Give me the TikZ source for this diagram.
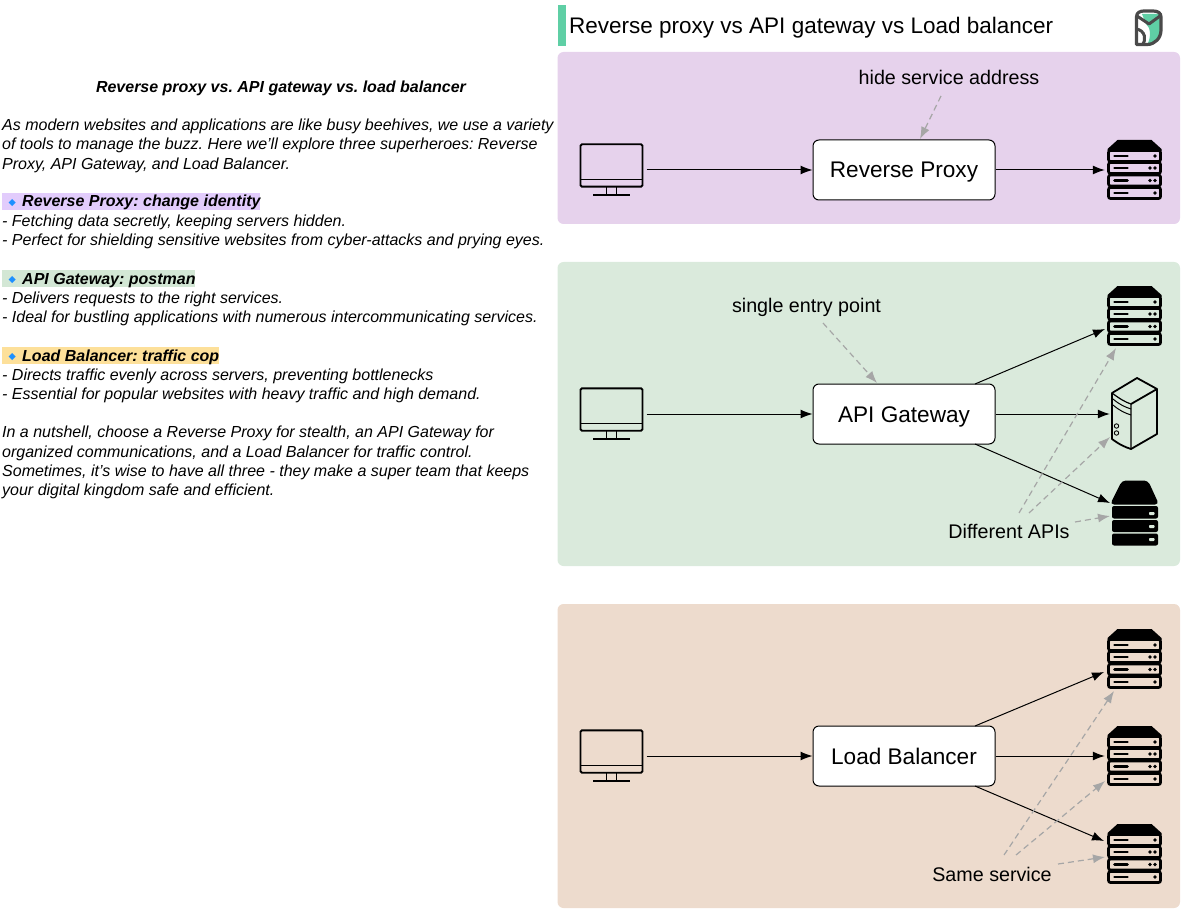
\documentclass[tikz,border=0pt]{standalone}
\usepackage{fontspec}
\setmainfont{Liberation Sans}
\newfontfamily\symfont{DejaVu Sans}
\usetikzlibrary{arrows.meta}
\frenchspacing
\definecolor{pPurple}{HTML}{E6D2EC}
\definecolor{pGreen}{HTML}{DAEADC}
\definecolor{pTan}{HTML}{EDDBCD}
\definecolor{hPurple}{HTML}{E2CCFC}
\definecolor{hGreen}{HTML}{D3E7D5}
\definecolor{hYellow}{HTML}{FDE09A}
\definecolor{accent}{HTML}{5FCFA5}
\definecolor{dashgray}{HTML}{A6A6A6}
\definecolor{logogray}{HTML}{4A4A4A}
\definecolor{diam}{HTML}{1E90FF}
\newcommand{\bdiam}{\makebox[20pt][c]{\raisebox{1.2pt}{\symfont\fontsize{9.5}{9.5}\selectfont\textcolor{diam}{◆}}}}
\tikzset{
  x=1pt,y=-1pt,
  panel/.style={rounded corners=6pt,draw=none},
  procbox/.style={draw=black,fill=white,line width=1pt,rounded corners=6pt,minimum width=182pt,minimum height=60pt,inner sep=0pt,text height=16pt,text depth=0pt,font=\fontsize{22.6}{26}\selectfont},
  note/.style={inner sep=0pt,anchor=base,font=\fontsize{19.7}{24}\selectfont},
  body/.style={inner sep=0pt,anchor=base west,font=\fontsize{16}{19}\selectfont\itshape},
  head/.style={inner sep=0pt,anchor=base west,font=\fontsize{16}{19}\selectfont\itshape\bfseries},
  iconbox/.style={minimum width=#1,minimum height=60pt,inner sep=0pt},
  flow/.style={-{Latex[length=12pt,width=9pt]},line width=1pt,black},
  hint/.style={-{Latex[length=12pt,width=9pt]},line width=1.2pt,dashgray,dash pattern=on 6pt off 4pt},
  monitor/.pic={
    \draw[line width=1.9pt,rounded corners=1.5pt] (-31,-25.7) rectangle (31,16.7);
    \draw[line width=1.7pt] (-31,9.5) -- (31,9.5);
    \draw[line width=1.6pt] (-5,17) -- (-5,25) (5,17) -- (5,25);
    \draw[line width=1.9pt] (-18.5,25) -- (18.5,25);
  },
  rackrow/.pic={
    \draw[line width=2.7pt,rounded corners=2pt] (-26,-5.5) rectangle (26,5.5);
    \draw[line width=2.6pt,line cap=round] (-20,0) -- (-7,0);
  },
  rack/.pic={
    \fill (-27,-19) -- (-27,-21) -- (-17,-30) -- (17,-30) -- (27,-21) -- (27,-19) -- cycle;
    \pic at (0,-14) {rackrow};
    \pic at (0,-2) {rackrow};
    \pic at (0,10.5) {rackrow};
    \pic at (0,23) {rackrow};
    \fill (20.5,-14) circle (1.8pt) (20.5,-2) circle (1.8pt) (15.5,-2) circle (1.8pt)
          (20.5,10.5) circle (1.8pt) (15.5,10.5) circle (1.8pt) (20.5,23) circle (1.8pt);
  },
  tower/.pic={
    \draw[line width=1.8pt,line join=round] (2,-36) -- (-23,-21) -- (-23,25) .. controls (-15,31) and (-10,33) .. (-4,35) -- (22,20) -- (22,-25) -- cycle;
    \draw[line width=1.2pt] (-23,-21) .. controls (-15,-15) and (-10,-12) .. (-4,-10) -- (-4,35);
    \draw[line width=1.8pt] (-4,-10) -- (22,-25);
    \draw[line width=1pt] (-22,-15) .. controls (-15,-9) and (-10,-7) .. (-4,-5)
                          (-22,-9) .. controls (-15,-3) and (-10,-1) .. (-4,1);
    \draw[line width=0.9pt] (-18.5,12) circle (2.2pt) (-18.5,19) circle (2.2pt);
  },
  darkrack/.pic={
    \fill[rounded corners=4pt] (-25,-8.5) -- (-13,-32.5) -- (13,-32.5) -- (24,-8.5) -- cycle;
    \fill[rounded corners=2pt] (-23,-7) rectangle (23,5.5);
    \fill[rounded corners=2pt] (-23,7) rectangle (23,19);
    \fill[rounded corners=2pt] (-23,20.5) rectangle (23,32.5);
    \fill[pGreen,rounded corners=0.8pt] (14,-1) rectangle (19.5,2) (14,12) rectangle (19.5,15) (14,25) rectangle (19.5,28);
  },
}
\begin{document}
\begin{tikzpicture}
\useasboundingbox (0,0) rectangle (1188,917);
% title strip
\fill[accent] (557.5,5) rectangle (566,46);
\node[inner sep=0pt,anchor=base west,font=\fontsize{22.5}{28}\selectfont] (title) at (569,34) {Reverse proxy vs API gateway vs Load balancer};
% logo
\begin{scope}
\fill[accent] (1142,14) -- (1160,14) -- (1160,30) .. controls (1160,38) and (1153,44) .. (1147,45) .. controls (1152,36) and (1150,27) .. (1146,24) -- cycle;
\draw[logogray,line width=3.2pt,line join=round] (1136.5,17) .. controls (1136.5,12.5) and (1140,11) .. (1144,11) -- (1153,11) .. controls (1158,11) and (1161,13) .. (1161,17) -- (1161,30) .. controls (1161,38) and (1155,44.5) .. (1147,44.5) -- (1136.5,44.5) -- cycle;
\draw[logogray,line width=3pt,line join=round] (1137,16) -- (1149,24) -- (1160,16);
\draw[logogray,line width=3pt] (1136,29) .. controls (1145,30) and (1147,40) .. (1142,45);
\end{scope}
% panels
\fill[panel,pPurple] (557.5,52) rectangle (1180,224);
\fill[panel,pGreen] (557.5,262) rectangle (1180,566);
\fill[panel,pTan] (557.5,604) rectangle (1180,908);
% left text
\node[inner sep=0pt,anchor=base,font=\fontsize{16}{19}\selectfont\itshape\bfseries] (t0) at (281,92.5) {Reverse proxy vs. API gateway vs. load balancer};
\node[body] (t1) at (2,130.5) {As modern websites and applications are like busy beehives, we use a variety};
\node[body] (t2) at (2,149.5) {of tools to manage the buzz. Here we'll explore three superheroes: Reverse};
\node[body] (t3) at (2,169.5) {Proxy, API Gateway, and Load Balancer.};
\fill[hPurple] (2,193) rectangle (260,210);
\node[head] (h1) at (2,207) {\bdiam Reverse Proxy: change identity};
\node[body] (t4) at (2,226.3) {- Fetching data secretly, keeping servers hidden.};
\node[body] (t5) at (2,246) {- Perfect for shielding sensitive websites from cyber-attacks and prying eyes.};
\fill[hGreen] (2,270) rectangle (195,287);
\node[head] (h2) at (2,284) {\bdiam API Gateway: postman};
\node[body] (t6) at (2,303) {- Delivers requests to the right services.};
\node[body] (t7) at (2,322) {- Ideal for bustling applications with numerous intercommunicating services.};
\fill[hYellow] (2,347) rectangle (219,364);
\node[head] (h3) at (2,361) {\bdiam Load Balancer: traffic cop};
\node[body] (t8) at (2,380) {- Directs traffic evenly across servers, preventing bottlenecks};
\node[body] (t9) at (2,399) {- Essential for popular websites with heavy traffic and high demand.};
\node[body] (t10) at (2,437) {In a nutshell, choose a Reverse Proxy for stealth, an API Gateway for};
\node[body] (t11) at (2,457) {organized communications, and a Load Balancer for traffic control.};
\node[body] (t12) at (2,476) {Sometimes, it's wise to have all three - they make a super team that keeps};
\node[body] (t13) at (2,495) {your digital kingdom safe and efficient.};
% panel 1
\node[iconbox=70pt] (m1) at (611.5,170) {};
\pic at (m1.center) {monitor};
\node[procbox] (rp) at (904,170) {Reverse Proxy};
\node[iconbox=59pt] (s1) at (1134.5,170) {};
\pic at (s1.center) {rack};
\draw[flow] (m1) -- (rp);
\draw[flow] (rp) -- (s1);
\node[note] (n1) at (949,84.5) {hide service address};
\coordinate (n1a) at (941,96);
\draw[hint] (n1a) -- (920,139);
% panel 2
\node[iconbox=70pt] (m2) at (611.5,414) {};
\pic at (m2.center) {monitor};
\node[procbox] (gw) at (904,414) {API Gateway};
\node[iconbox=59pt] (s2) at (1134.5,316) {};
\pic at (s2.center) {rack};
\node[iconbox=50pt] (s3) at (1135,414) {};
\pic at (s3.center) {tower};
\node[iconbox=50pt] (s4) at (1135,513) {};
\pic at (s4.center) {darkrack};
\coordinate (gwT) at (975,384);
\coordinate (gwB) at (975,444);
\coordinate (s2i) at (1105,329);
\coordinate (s4i) at (1110,503);
\draw[flow] (m2) -- (gw);
\draw[flow] (gwT) -- (s2i);
\draw[flow] (gw) -- (s3);
\draw[flow] (gwB) -- (s4i);
\node[note] (n2) at (806.5,312) {single entry point};
\coordinate (n2a) at (823,323);
\coordinate (n2b) at (877,383);
\draw[hint] (n2a) -- (n2b);
\node[note] (n3) at (1009,538) {Different APIs};
\coordinate (n3a) at (1019,513);
\coordinate (n3b) at (1029,513);
\coordinate (n3c) at (1075,522);
\draw[hint] (n3a) -- (1116,348);
\draw[hint] (n3b) -- (1110,437);
\draw[hint] (n3c) -- (1110,516);
% panel 3
\node[iconbox=70pt] (m3) at (611.5,756) {};
\pic at (m3.center) {monitor};
\node[procbox] (lb) at (904,756) {Load Balancer};
\node[iconbox=59pt] (s5) at (1134.5,659) {};
\pic at (s5.center) {rack};
\node[iconbox=59pt] (s6) at (1134.5,756) {};
\pic at (s6.center) {rack};
\node[iconbox=59pt] (s7) at (1134.5,854) {};
\pic at (s7.center) {rack};
\coordinate (lbT) at (975,726);
\coordinate (lbB) at (975,786);
\coordinate (s5i) at (1104,672);
\coordinate (s7i) at (1104,841);
\draw[flow] (m3) -- (lb);
\draw[flow] (lbT) -- (s5i);
\draw[flow] (lb) -- (s6);
\draw[flow] (lbB) -- (s7i);
\node[note] (n4) at (992,881) {Same service};
\coordinate (n4a) at (1004,855);
\coordinate (n4b) at (1016,855);
\coordinate (n4c) at (1058,864);
\draw[hint] (n4a) -- (1114,691);
\draw[hint] (n4b) -- (1105,781);
\draw[hint] (n4c) -- (1105,857);
\end{tikzpicture}
\end{document}
